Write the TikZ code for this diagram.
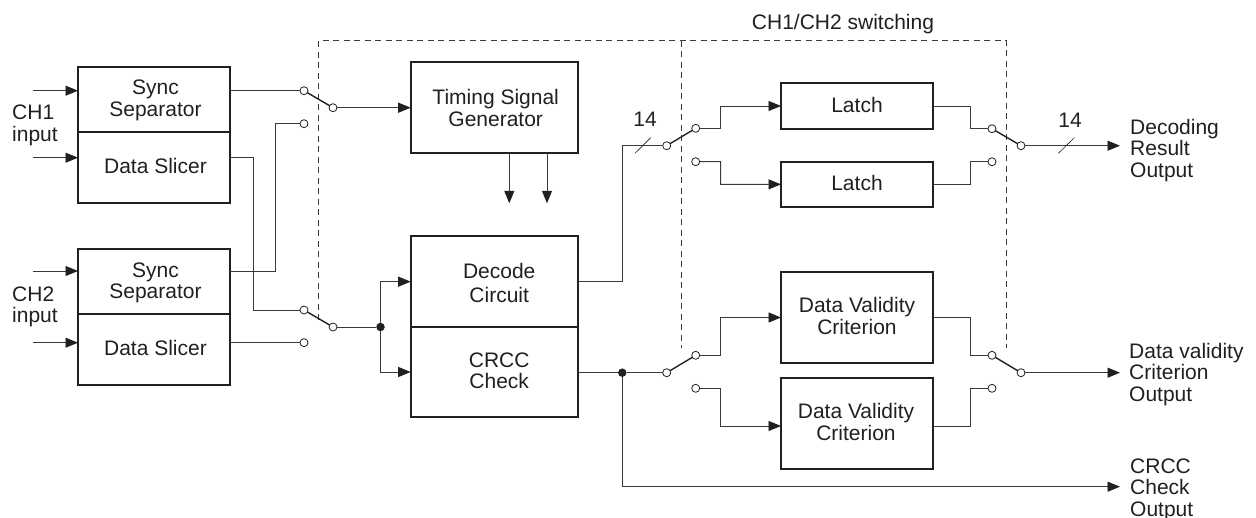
\documentclass[tikz,border=0pt]{standalone}
\usepackage{fontspec}
\setmainfont{Liberation Sans}
\usetikzlibrary{arrows.meta}
\definecolor{ink}{HTML}{231F20}
\definecolor{wire}{HTML}{3A3A3A}
\tikzset{
  x=1pt,y=-1pt,
  every label/.style={align=center,text=ink,inner sep=0pt,font=\fontsize{21}{21.5}\selectfont},
  blockbox/.style={draw=ink,line width=1.7pt,rectangle,inner sep=0pt,outer sep=0pt,fill=none},
  wireline/.style={draw=wire,line width=0.95pt},
  arrowline/.style={wireline,-{Triangle[length=12.5pt,width=10pt,color=ink]}},
  lever/.style={draw=ink,line width=1.4pt},
  terminal/.style={circle,draw=ink,fill=white,line width=0.8pt,minimum size=8pt,inner sep=0pt,outer sep=0pt},
  junction/.style={circle,fill=ink,minimum size=8.5pt,inner sep=0pt,outer sep=0pt},
  dashline/.style={draw=wire,line width=0.75pt,dash pattern=on 6pt off 4.5pt},
  slash/.style={draw=ink,line width=0.6pt},
  lbl/.style={align=left,anchor=west,text=ink,inner sep=0pt,font=\fontsize{21}{21.5}\selectfont},
  numlbl/.style={text=ink,inner sep=0pt,font=\fontsize{21}{21.5}\selectfont}
}
\newcommand{\blk}[8]{%
  \node[blockbox,minimum width={(#4-#2)*1pt},minimum height={(#5-#3)*1pt},
    label={[xshift=#6pt,yshift=#7pt]center:{#8}}] (#1) at ({(#2+#4)/2},{(#3+#5)/2}) {};}
\begin{document}
\begin{tikzpicture}
\useasboundingbox (0,0) rectangle (1256,517);
% dashed enclosures
\coordinate (dTL) at (318.5,40.7);
\coordinate (dTM) at (681,40.7);
\coordinate (dTR) at (1006,40.7);
\coordinate (dBL) at (318.5,320);
\coordinate (dBM) at (681,348);
\coordinate (dBR) at (1006,348);
\draw[dashline] (dBL) -- (dTL) -- (dTR) -- (dBR);
\draw[dashline] (dTM) -- (dBM);
\node[numlbl] (title) at (843,24) {CH1/CH2 switching};
% blocks
\blk{syncA}{78}{66.7}{230}{132}{1.5}{-1.2}{Sync\\Separator}
\blk{sliceA}{78}{132}{230}{203}{1.5}{1.8}{Data Slicer}
\blk{syncB}{78}{248.7}{230}{314}{1.5}{-1.5}{Sync\\Separator}
\blk{sliceB}{78}{314}{230}{385}{1.5}{1.5}{Data Slicer}
\blk{timing}{410.7}{62.3}{577.7}{153.3}{1.5}{0}{Timing Signal\\Generator}
\blk{decode}{410.7}{236.3}{577.7}{327}{5}{-1}{Decode\\[2.5pt]Circuit}
\blk{crcc}{410.7}{327}{577.7}{417}{5}{1}{CRCC\\Check}
\blk{latchA}{781}{83}{933}{129}{0}{1}{Latch}
\blk{latchB}{781}{161.7}{933}{207}{0}{1}{Latch}
\blk{validA}{781}{272}{933}{363}{0}{1.5}{Data Validity\\Criterion}
\blk{validB}{781}{377.7}{933}{469.3}{-1}{1.5}{Data Validity\\Criterion}
% switch terminals
\node[terminal] (sa1) at (304,90.7) {};
\node[terminal] (sa2) at (304,123.7) {};
\node[terminal] (sap) at (333,107.7) {};
\node[terminal] (sb1) at (304,310) {};
\node[terminal] (sb2) at (304,342.7) {};
\node[terminal] (sbp) at (333,327) {};
\node[terminal] (sc1) at (695.7,128.3) {};
\node[terminal] (sc2) at (695.7,161.7) {};
\node[terminal] (scp) at (666.7,145.7) {};
\node[terminal] (sd1) at (992,128.7) {};
\node[terminal] (sd2) at (992,161.7) {};
\node[terminal] (sdp) at (1021,145.7) {};
\node[terminal] (se1) at (695.7,355.3) {};
\node[terminal] (se2) at (695.7,388.3) {};
\node[terminal] (sep) at (666.7,372.7) {};
\node[terminal] (sf1) at (992,355.3) {};
\node[terminal] (sf2) at (992,388.3) {};
\node[terminal] (sfp) at (1021,372.7) {};
\node[junction] (ja) at (380.5,327) {};
\node[junction] (jb) at (622.3,372.7) {};
% levers
\draw[lever] (sa1) -- (sap);
\draw[lever] (sb1) -- (sbp);
\draw[lever] (sc1) -- (scp);
\draw[lever] (sd1) -- (sdp);
\draw[lever] (se1) -- (sep);
\draw[lever] (sf1) -- (sfp);
% inputs
\coordinate (inA1) at (33,90.7);
\coordinate (inA2) at (33,157.7);
\coordinate (inB1) at (33,271);
\coordinate (inB2) at (33,342.7);
\draw[arrowline] (inA1) -- (inA1 -| syncA.west);
\draw[arrowline] (inA2) -- (inA2 -| sliceA.west);
\draw[arrowline] (inB1) -- (inB1 -| syncB.west);
\draw[arrowline] (inB2) -- (inB2 -| sliceB.west);
% left-hand wiring
\draw[wireline] (syncA.east |- sa1) -- (sa1);
\draw[wireline] (sliceA.east |- inA2) -| (253,310) -- (sb1);
\draw[wireline] (syncB.east |- inB1) -| (275,123.7) -- (sa2);
\draw[wireline] (sliceB.east |- sb2) -- (sb2);
\draw[arrowline] (sap) -- (sap -| timing.west);
\draw[wireline] (sbp) -- (ja);
\draw[arrowline] (ja) |- (decode.west);
\draw[arrowline] (ja) |- (crcc.west);
% timing outputs
\coordinate (tgA) at (509.3,203.3);
\coordinate (tgB) at (547,203.3);
\draw[arrowline] (tgA |- timing.south) -- (tgA);
\draw[arrowline] (tgB |- timing.south) -- (tgB);
% decode to latches
\coordinate (slashA1) at (635,153.3);
\coordinate (slashA2) at (650.7,137.7);
\draw[wireline] (decode.east) -| (622.3,145.7) -- (scp);
\draw[slash] (slashA1) -- (slashA2);
\node[numlbl] (numA) at (645,119) {14};
\draw[arrowline] (sc1) -| (720.7,106) -- (latchA.west);
\draw[arrowline] (sc2) -| (720.7,184.3) -- (latchB.west);
\draw[wireline] (latchA.east) -| (970.3,128.7) -- (sd1);
\draw[wireline] (latchB.east) -| (970.3,161.7) -- (sd2);
\coordinate (outA) at (1120,145.7);
\draw[arrowline] (sdp) -- (outA);
\coordinate (slashB1) at (1058.3,153.3);
\coordinate (slashB2) at (1074.3,137.7);
\draw[slash] (slashB1) -- (slashB2);
\node[numlbl] (numB) at (1070,120) {14};
% crcc to validity
\coordinate (vbLevel) at (720.7,426);
\draw[wireline] (crcc.east |- jb) -- (jb) -- (sep);
\draw[arrowline] (se1) -| (720.7,317.5) -- (validA.west);
\draw[arrowline] (se2) -| (vbLevel) -- (vbLevel -| validB.west);
\draw[wireline] (validA.east) -| (970.3,355.3) -- (sf1);
\draw[wireline] (validB.east |- vbLevel) -| (970.3,388.3) -- (sf2);
\coordinate (outB) at (1120,372.7);
\coordinate (outC) at (1120,486.7);
\draw[arrowline] (sfp) -- (outB);
\draw[arrowline] (jb) |- (outC);
% side labels
\node[lbl] (lblA) at (12,125.5) {CH1\\input};
\node[lbl] (lblB) at (12,307) {CH2\\input};
\node[lbl] (lblC) at (1130,150.5) {Decoding\\Result\\Output};
\node[lbl] (lblD) at (1129,374.5) {Data validity\\Criterion\\Output};
\node[lbl] (lblE) at (1130,489.5) {CRCC\\Check\\Output};
\end{tikzpicture}
\end{document}
